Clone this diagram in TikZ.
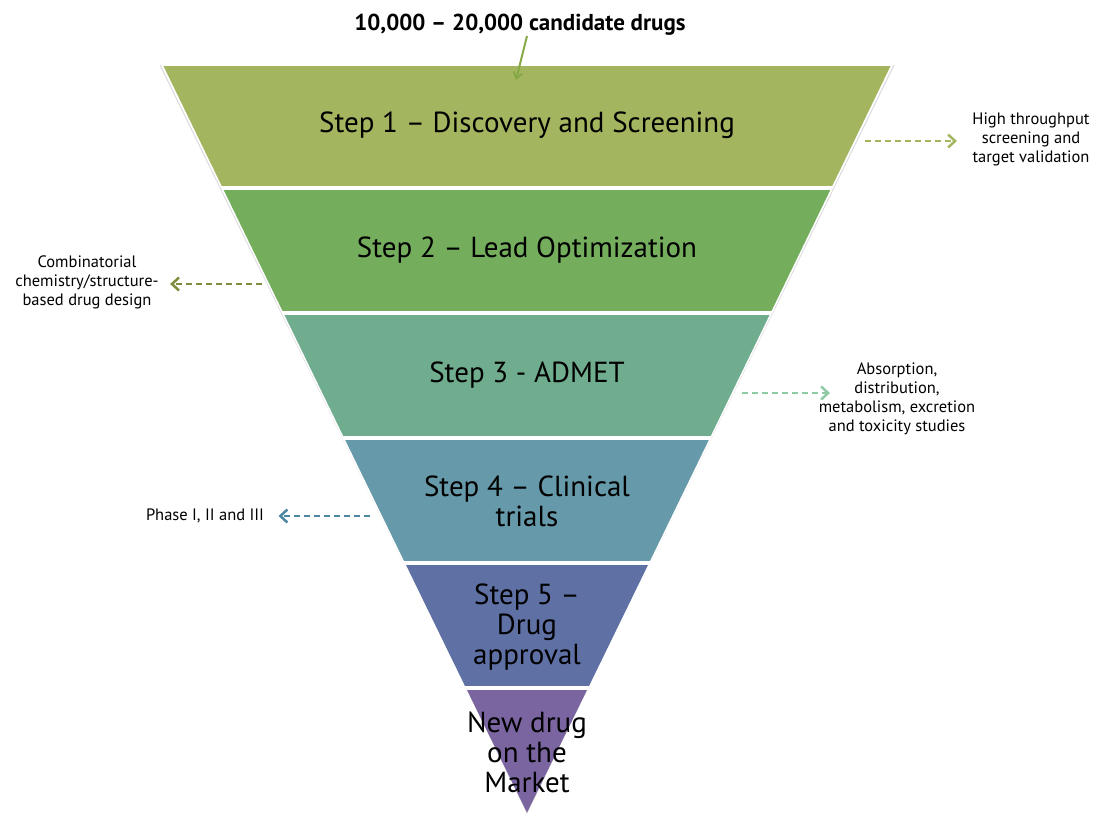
\documentclass[tikz,border=0pt]{standalone}
\usepackage{fontspec}
\setmainfont{PT Sans}
\usetikzlibrary{arrows.meta}
\definecolor{bandA}{HTML}{A3B55F}
\definecolor{bandB}{HTML}{74AE5D}
\definecolor{bandC}{HTML}{70AD8F}
\definecolor{bandD}{HTML}{6699A9}
\definecolor{bandE}{HTML}{5F70A5}
\definecolor{bandF}{HTML}{7A65A1}
\definecolor{arrowA}{HTML}{A3B55F}
\definecolor{arrowB}{HTML}{7E8C3C}
\definecolor{arrowC}{HTML}{8ECBA4}
\definecolor{arrowD}{HTML}{4B87A3}
\definecolor{topgreen}{HTML}{86A845}
\tikzset{
  steplabel/.style={align=center, font=\fontsize{29}{30}\selectfont},
  notelabel/.style={align=center, font=\fontsize{16.5}{19}\selectfont},
  notearrow/.style={dash pattern=on 6pt off 4pt, line width=2.5pt,
    -{Straight Barb[length=7pt,width=13pt]}},
  gap/.style={white, line width=4.5pt}
}
\begin{document}
\begin{tikzpicture}[x=1pt, y=-1pt]
	    \useasboundingbox (0,0) rectangle (1097,820);
	    \coordinate (tl) at (162,65);
	    \coordinate (tr) at (892,65);
	    \coordinate (ap) at (527,816);
	    % funnel bands
	    \begin{scope}
	        \clip (tl) -- (tr) -- (ap) -- cycle;
	        \fill[bandA] (0,60) rectangle (1097,188);
	        \fill[bandB] (0,188) rectangle (1097,313);
	        \fill[bandC] (0,313) rectangle (1097,438);
	        \fill[bandD] (0,438) rectangle (1097,563);
	        \fill[bandE] (0,563) rectangle (1097,688);
	        \fill[bandF] (0,688) rectangle (1097,820);
	        \draw[gap] (0,188) -- (1097,188);
	        \draw[gap] (0,313) -- (1097,313);
	        \draw[gap] (0,438) -- (1097,438);
	        \draw[gap] (0,563) -- (1097,563);
	        \draw[gap] (0,688) -- (1097,688);
	    \end{scope}
	    \draw[black!15, line width=1pt] ([xshift=-2pt]tl) -- ([yshift=2pt]ap) -- ([xshift=2pt]tr);
	    \draw[white, line width=1.5pt, line join=round] (tl) -- (tr) -- (ap) -- cycle;
	    % step texts
	    \node[steplabel] (s1) at (527,125) {Step 1 – Discovery and Screening};
	    \node[steplabel] (s2) at (527,250) {Step 2 – Lead Optimization};
	    \node[steplabel] (s3) at (527,375) {Step 3 - ADMET};
	    \node[steplabel] (s4) at (527,501) {Step 4 – Clinical\\trials};
	    \node[steplabel] (s5) at (527,627) {Step 5 –\\Drug\\approval};
	    \node[steplabel] (s6) at (527,752) {New drug\\on the\\Market};
	    % input
	    \node[font=\bfseries\fontsize{23}{26}\selectfont] (t) at (520,25) {10,000 – 20,000 candidate drugs};
	    \coordinate (c0) at (516,80);
	    \draw[topgreen, line width=2pt, -{Straight Barb[length=6pt,width=9pt]}] (527,36) -- (c0);
	    % side notes
	    \node[notelabel] (n1) at (1031,139) {High throughput\\screening and\\target validation};
	    \node[notelabel] (n2) at (87,282) {Combinatorial\\chemistry/structure-\\based drug design};
	    \node[notelabel] (n3) at (897,399) {Absorption,\\distribution,\\metabolism, excretion\\and toxicity studies};
	    \node[notelabel] (n4) at (205,516) {Phase I, II and III};
	    \coordinate (c1) at (865,141);
	    \coordinate (c2) at (262,284);
	    \coordinate (c3) at (742,393);
	    \coordinate (c3e) at (830,393);
	    \coordinate (c4) at (370,516);
	    \draw[notearrow, arrowA] (c1) -- ([xshift=-12pt]n1.west |- c1);
	    \draw[notearrow, arrowB] (c2) -- ([xshift=8pt]n2.east |- c2);
	    \draw[notearrow, arrowC] (c3) -- (c3e);
	    \draw[notearrow, arrowD] (c4) -- ([xshift=11pt]n4.east);
        \end{tikzpicture}
\end{document}
